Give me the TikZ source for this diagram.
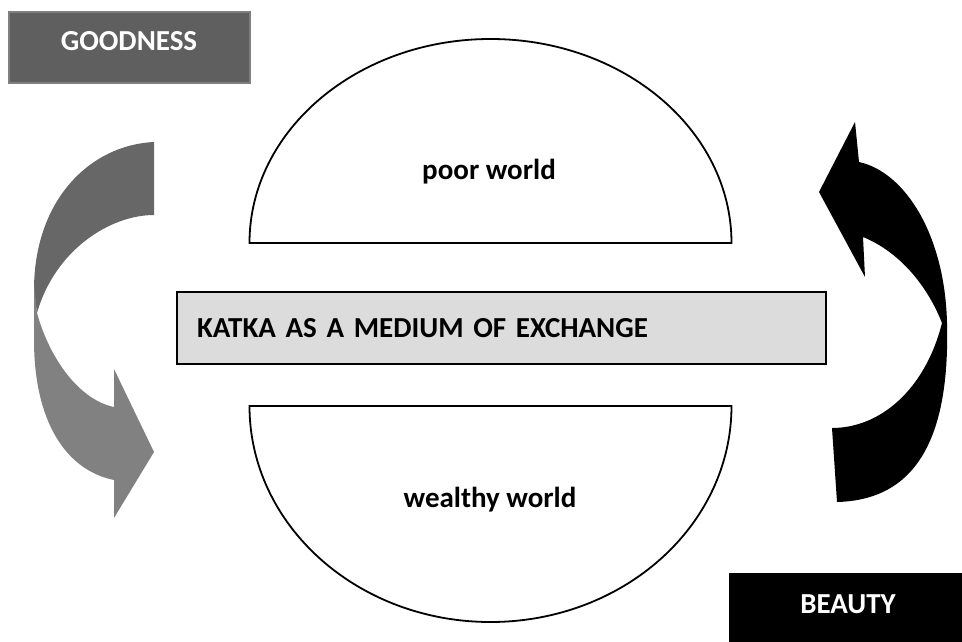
\documentclass[tikz,border=0pt]{standalone}
\usepackage{fontspec}
\setmainfont{Carlito}
\definecolor{goodfill}{HTML}{5F5F5F}
\definecolor{goodline}{HTML}{7F7F7F}
\definecolor{arrowdark}{HTML}{676767}
\definecolor{arrowlight}{HTML}{818181}
\definecolor{mediumfill}{HTML}{DCDCDC}
\tikzset{
  lbl/.style={font=\fontsize{29}{34}\selectfont\bfseries, inner sep=0pt},
  goodbox/.style={draw=goodline, line width=1.5pt, fill=goodfill,
    minimum width=241pt, minimum height=71pt, inner sep=0pt},
  beautybox/.style={fill=black, minimum width=235pt, minimum height=70pt, inner sep=0pt},
  mediumbox/.style={draw=black, line width=1.8pt, fill=mediumfill,
    minimum width=649pt, minimum height=72pt, inner xsep=20pt, inner ysep=0pt,
    text width=609pt, align=left, font=\fontsize{29}{34}\selectfont\bfseries},
  halfworld/.style={draw=black, line width=1.8pt, fill=white},
}
\begin{document}
\begin{tikzpicture}[x=1pt, y=-1pt]
\useasboundingbox (0,0) rectangle (962,641);

% upper and lower half-ellipses
\draw[halfworld] (249.5,243) arc[start angle=180, end angle=360, x radius=241, y radius=204] -- cycle;
\draw[halfworld] (249.5,406) arc[start angle=180, end angle=0, x radius=241, y radius=216] -- cycle;
\node[lbl] (poor) at (489,172) {poor world};
\node[lbl] (wealthy) at (490,500) {wealthy world};

% central band
\node[mediumbox] (medium) at (501.5,328) {KATKA AS A MEDIUM OF EXCHANGE};

% left curved arrow: back band, then front band with head
\fill[arrowdark] (154,142) .. controls (90,145) and (34,200) .. (34,290)
  -- (37,313) .. controls (55,250) and (110,215) .. (154,215) -- cycle;
\fill[arrowlight] (34,283) -- (34,340) .. controls (34,420) and (65,470) .. (114,480)
  -- (114,518) -- (154,452) -- (114,369) -- (114,407)
  .. controls (80,400) and (50,360) .. (37,313) -- cycle;

% right curved arrow
\fill[black] (859,162) .. controls (905,172) and (945,235) .. (947,323)
  .. controls (950,440) and (915,500) .. (837,502) -- (832,428)
  .. controls (880,428) and (925,390) .. (942,323)
  .. controls (925,280) and (895,250) .. (863,237)
  -- (865,277) -- (819,192) -- (855,122) -- cycle;

% corner labels
\node[goodbox] (goodness) at (129.5,47.5) {};
\node[lbl, text=white] (goodnesstext) at (129,41) {GOODNESS};
\node[beautybox] (beauty) at (846.5,608) {};
\node[lbl, text=white] (beautytext) at (848,604) {BEAUTY};
\end{tikzpicture}
\end{document}
